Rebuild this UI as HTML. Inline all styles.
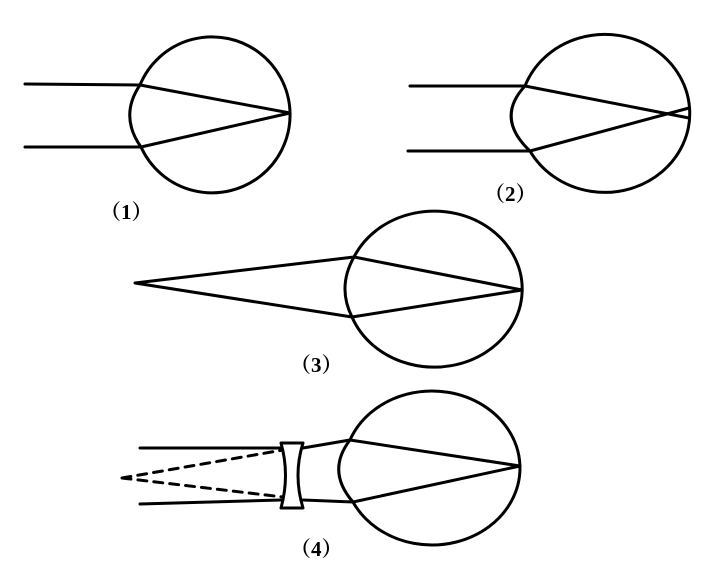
<!DOCTYPE html>
<html><head><style>body{margin:0;background:#fff}svg{display:block}text{font-family:"Liberation Serif","Noto Serif CJK SC",serif;font-size:21px;font-weight:bold}</style></head>
<body>
<svg width="713" height="569" viewBox="0 0 713 569" xmlns="http://www.w3.org/2000/svg">
<g fill="none" stroke="#000" stroke-width="3" stroke-linejoin="round" stroke-linecap="round">
<!-- Eye 1 -->
<path d="M140,85 A78 78 0 1 1 141,147 Q119,116 140,85"/>
<path d="M25,84 L140,85 L290,113 L141,147 L25,147"/>
<!-- Eye 2 -->
<path d="M525,86 A85 79 0 1 1 530,151 Q495,118 525,86"/>
<path d="M410,86 L525,86 L689,118"/>
<path d="M408,151 L530,151 L689,108"/>
<!-- Eye 3 -->
<path d="M354,257 A88 78 0 1 1 352,317 Q337,287 354,257"/>
<path d="M135,283 L354,257 L522,290 L352,317 L135,283"/>
<!-- Eye 4 -->
<path d="M350,440 A88 77 0 1 1 353,502 Q326,471 350,440"/>
<path d="M140,448 L283,448"/>
<path d="M140,504 L281,500"/>
<path d="M303,448 L350,440 L520,466 L353,502 L303,500"/>
<path d="M122,478 L283,450 M122,478 L283,497" stroke-dasharray="9,7"/>
<path d="M281,443 L303,443 Q293,475 303,508 L281,508 Q290,475 281,443 Z" fill="#fff"/>
</g>
<text x="100" y="219">（1）</text>
<text x="484" y="201">（2）</text>
<text x="290" y="372">（3）</text>
<text x="290" y="556">（4）</text>
</svg>
</body></html>
